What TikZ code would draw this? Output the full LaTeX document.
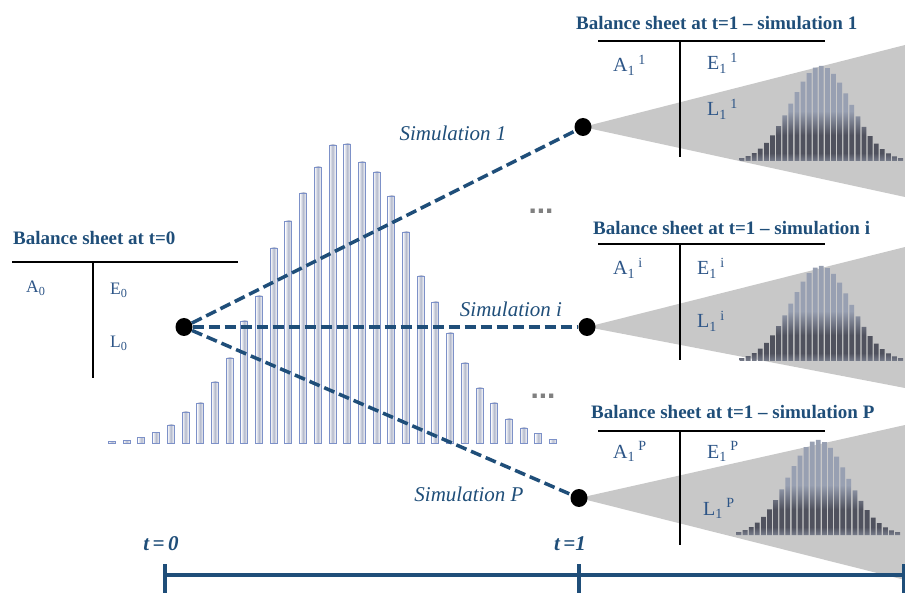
\documentclass[tikz,border=0pt]{standalone}
\usepackage{fontspec}
\setmainfont{Liberation Serif}
\newfontfamily\dotsfont{Liberation Sans}
\usetikzlibrary{shapes.geometric, backgrounds}
\definecolor{navy}{RGB}{31,78,121}
\definecolor{sheetblue}{RGB}{45,85,135}
\definecolor{conegray}{RGB}{200,200,200}
\definecolor{barline}{RGB}{125,145,200}
\definecolor{barmid}{RGB}{180,186,205}
\definecolor{minitop}{RGB}{152,160,178}
\definecolor{minidark}{RGB}{80,82,94}
\definecolor{minibase}{RGB}{120,125,140}
\pgfdeclareverticalshading{minishade}{100bp}{color(0bp)=(minibase); color(25bp)=(minibase);
  color(29bp)=(minidark); color(38bp)=(minidark); color(50bp)=(minitop); color(100bp)=(minitop)}
\tikzset{
  title/.style    = {font=\fontsize{19}{22}\selectfont\bfseries, text=navy, inner sep=0pt, anchor=base west},
  entry/.style    = {font=\fontsize{20}{23}\selectfont, text=sheetblue, inner sep=0pt, anchor=base west},
  entryzero/.style= {entry, font=\fontsize{17.5}{21}\selectfont},
  simlabel/.style = {font=\fontsize{21}{24}\selectfont\itshape, text=navy, inner sep=0pt},
  tlabel/.style   = {font=\fontsize{21}{24}\selectfont\bfseries\itshape, text=navy, inner sep=0pt, anchor=base},
  ellip/.style    = {font=\dotsfont\fontsize{30}{32}\selectfont\bfseries, text=gray, inner sep=0pt, anchor=base},
  dot/.style      = {ellipse, fill=black, minimum width=17pt, minimum height=18pt, inner sep=0pt},
  simline/.style  = {navy, line width=3.5pt, dash pattern=on 11pt off 5pt},
  sheet/.style    = {black, line width=1.5pt},
  bar/.style      = {draw=barline, line width=0.9pt, left color=white, right color=white, middle color=barmid},
  minihist/.style = {shading=minishade},
  cone/.style     = {fill=conegray},
  timeline/.style = {navy, line width=4pt},
}

\begin{document}
\begin{tikzpicture}[x=1pt, y=-1pt]
  \useasboundingbox (0,0) rectangle (905,593);

  % ---- start point and end points of the simulations ----
  \node[dot] (o)  at (184,327) {};
  \node[dot] (s1) at (583,127) {};
  \node[dot] (si) at (587,327) {};
  \node[dot] (sP) at (579,498) {};

  \begin{scope}[on background layer]
    % ---- distribution at t=0 ----
    \foreach \t [count=\k from 0] in {441,440,437,432,425,412,403,382,358,321,296,248,221,193,167,145,
                                      144,162,172,196,232,276,302,333,363,388,403,419,428,433,439}
      \path[bar] ({112+14.7*\k-3.5},\t) rectangle ({112+14.7*\k+3.5},443);

    % ---- cones of the outcomes ----
    \fill[cone] (s1.center) -- (905,45)  -- (905,197) -- cycle;
    \fill[cone] (si.center) -- (905,247) -- (905,388) -- cycle;
    \fill[cone] (sP.center) -- (905,425) -- (905,580) -- cycle;

    % ---- distributions at t=1 ----
    \foreach \bx/\by in {742/161, 742/361, 739/535}{
      \begin{scope}
        \clip \foreach \k in {0,...,26}{
          ({\bx+6.1*\k-2.4},{\by-max(2,95*exp(-((6.1*\k-79)/30)^2/2))}) rectangle ({\bx+6.1*\k+2.4},\by)
        };
        \path[minihist] (\bx-5,\by-100) rectangle (\bx+170,\by);
      \end{scope}
    }
  \end{scope}

  % ---- balance sheet at t=0 ----
  \node[title] (bs0) at (13,245) {Balance sheet at t=0};
  \draw[sheet] (12,262) -- (238,262) (93,262) -- (93,378);
  \node[entryzero] (a0) at (26,293)  {A\textsubscript{0}};
  \node[entryzero] (e0) at (110,295) {E\textsubscript{0}};
  \node[entryzero] (l0) at (110,348) {L\textsubscript{0}};

  % ---- balance sheets at t=1 ----
  \node[title] (bs1) at (576,30) {Balance sheet at t=1 -- simulation 1};
  \draw[sheet] (598,41) -- (825,41) (680,41) -- (680,157);
  \node[entry] (a1) at (613,72)  {A\textsubscript{1}\,\textsuperscript{1}};
  \node[entry] (e1) at (707,70)  {E\textsubscript{1}\,\textsuperscript{1}};
  \node[entry] (l1) at (707,116) {L\textsubscript{1}\,\textsuperscript{1}};

  \node[title] (bsi) at (593,235) {Balance sheet at t=1 -- simulation i};
  \draw[sheet] (598,244) -- (825,244) (680,244) -- (680,360);
  \node[entry] (ai) at (613,275) {A\textsubscript{1}\,\textsuperscript{i}};
  \node[entry] (ei) at (697,275) {E\textsubscript{1}\,\textsuperscript{i}};
  \node[entry] (li) at (697,328) {L\textsubscript{1}\,\textsuperscript{i}};

  \node[title] (bsP) at (591,418) {Balance sheet at t=1 -- simulation P};
  \draw[sheet] (598,431) -- (825,431) (680,431) -- (680,545);
  \node[entry] (aP) at (613,458) {A\textsubscript{1}\,\textsuperscript{P}};
  \node[entry] (eP) at (707,458) {E\textsubscript{1}\,\textsuperscript{P}};
  \node[entry] (lP) at (703,515) {L\textsubscript{1}\,\textsuperscript{P}};

  % ---- simulation paths ----
  \draw[simline] (o) -- (s1);
  \draw[simline] (o) -- (si);
  \draw[simline] (o) -- (sP);
  \node[simlabel] (lab1) at (453,133) {Simulation 1};
  \node[simlabel] (labi) at (511,309) {Simulation i};
  \node[simlabel] (labP) at (469,494) {Simulation P};
  \node[ellip] (dd1) at (541,214) {...};
  \node[ellip] (dd2) at (543,399) {...};

  % ---- time axis ----
  \coordinate (t0)   at (165,575);
  \coordinate (t1)   at (579,575);
  \coordinate (tend) at (904,575);
  \draw[timeline] (t0) -- (tend);
  \foreach \c in {t0, t1, tend}
    \draw[timeline] (\c) ++(0,-11) -- ++(0,30);
  \node[tlabel] (lt0) at (161,550) {t\,=\,0};
  \node[tlabel] (lt1) at (570,550) {t\,=1};
\end{tikzpicture}
\end{document}
